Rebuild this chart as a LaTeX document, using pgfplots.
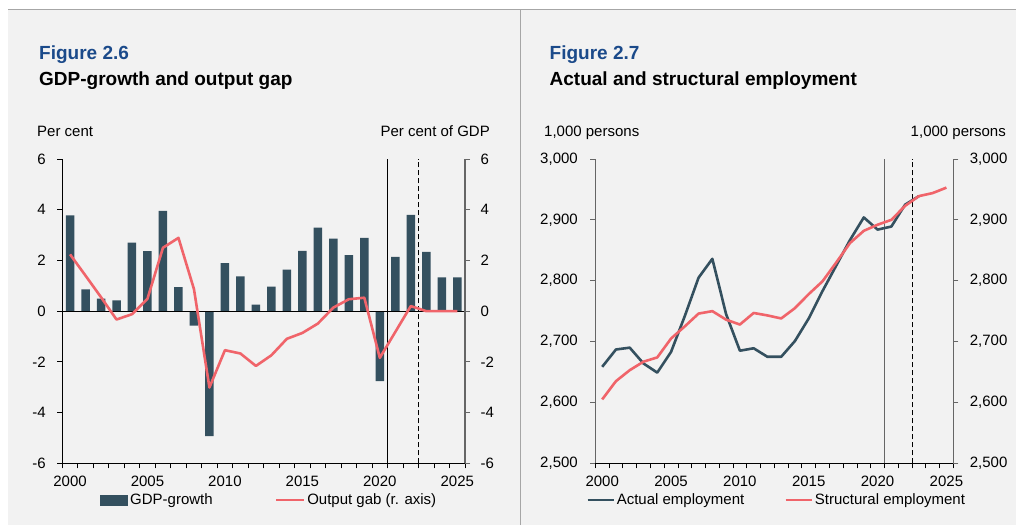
\documentclass[border=0pt]{standalone}
\usepackage{pgfplots}
\pgfplotsset{compat=1.18}
\usepackage{fontspec}
\setmainfont{Liberation Sans}
\definecolor{bgc}{HTML}{F2F2F2}
\definecolor{barc}{HTML}{34505F}
\definecolor{myred}{HTML}{F0646A}
\definecolor{figblue}{HTML}{1B4A8A}
\definecolor{axgray}{HTML}{666666}
\pgfplotsset{
  common/.style={
    scale only axis, anchor=south west,
    height=304.3pt, ymin=-6, ymax=6,
    xmin=1999.5, xmax=2025.5,
    ticklabel style={font=\fontsize{15}{18}\selectfont},
    /pgf/number format/assume math mode=true,
    tick align=outside, major tick length=5pt,
  },
}
\begin{document}
\begin{tikzpicture}[x=1pt,y=1pt]
\useasboundingbox (0,0) rectangle (1016,525);
\fill[white] (0,0) rectangle (1016,525);
\fill[bgc] (8,0) rectangle (1016,515.5);
\draw[gray!70, line width=1pt] (8,515.5) -- (1016,515.5);
\draw[gray!70, line width=1pt] (520,0) -- (520,515.5);

% titles
\node[anchor=base west, inner sep=0, font=\fontsize{19}{22}\selectfont\bfseries, text=figblue] at (39,465.7) {Figure 2.6};
\node[anchor=base west, inner sep=0, font=\fontsize{19}{22}\selectfont\bfseries] at (39,439.3) {GDP-growth and output gap};
\node[anchor=base west, inner sep=0, font=\fontsize{15}{18}\selectfont] at (37,388.3) {Per cent};
\node[anchor=base east, inner sep=0, font=\fontsize{15}{18}\selectfont] at (490,388.3) {Per cent of GDP};

\node[anchor=base west, inner sep=0, font=\fontsize{19}{22}\selectfont\bfseries, text=figblue] at (549.5,465.7) {Figure 2.7};
\node[anchor=base west, inner sep=0, font=\fontsize{19}{22}\selectfont\bfseries] at (549.5,439.3) {Actual and structural employment};
\node[anchor=base west, inner sep=0, font=\fontsize{15}{18}\selectfont] at (544,388.3) {1,000 persons};
\node[anchor=base east, inner sep=0, font=\fontsize{15}{18}\selectfont] at (1006,388.3) {1,000 persons};

% ---------- Left chart ----------
\begin{axis}[common, at={(62.3pt,61.7pt)}, width=402.7pt,
  axis x line*=bottom, axis y line*=left,
  axis line style={black, line width=0.8pt},
  tick style={black, line width=0.8pt},
  yticklabel style={xshift=-8pt},
  xticklabel style={yshift=-9pt},
  ytick={-6,-4,-2,0,2,4,6}, yticklabels={-6,-4,-2,0,2,4,6},
  xtick={1999.5,2000.5,...,2025.5}, xticklabels={},
  extra x ticks={2000,2005,2010,2015,2020,2025},
  extra x tick labels={2000,2005,2010,2015,2020,2025},
  extra x tick style={major tick length=0pt},
  legend style={at={(0.0936,-0.1206)}, anchor=west, draw=none, fill=none,
    legend columns=2, font=\fontsize{15}{18}\selectfont, inner sep=0pt,
    /tikz/every even column/.append style={column sep=60pt}},
]
\addplot[ybar, bar width=8.5pt, fill=barc, draw=none,
  legend image code/.code={\fill[barc] (0pt,-5.5pt) rectangle (28pt,5.5pt);}]
coordinates {
(2000,3.78) (2001,0.86) (2002,0.49) (2003,0.42) (2004,2.70) (2005,2.37)
(2006,3.95) (2007,0.95) (2008,-0.57) (2009,-4.93) (2010,1.89) (2011,1.37)
(2012,0.26) (2013,0.97) (2014,1.64) (2015,2.38) (2016,3.29) (2017,2.86)
(2018,2.21) (2019,2.89) (2020,-2.76) (2021,2.14) (2022,3.80) (2023,2.34)
(2024,1.33) (2025,1.33)};
\addlegendentry{GDP-growth}
\draw[black, line width=0.8pt] (axis cs:1999.5,0) -- (axis cs:2025.5,0);
\draw[black, line width=0.8pt] (axis cs:2020.5,-6) -- (axis cs:2020.5,6);
\draw[black, line width=0.8pt, dash pattern=on 5pt off 3pt] (axis cs:2022.5,-6) -- (axis cs:2022.5,6);
\addplot[myred, line width=2.6pt, line join=round,
  legend image code/.code={\draw[myred, line width=2.6pt] (0pt,0pt) -- (28pt,0pt);}]
coordinates {
(2000,2.24) (2001,1.40) (2002,0.55) (2003,-0.33) (2004,-0.12) (2005,0.49)
(2006,2.50) (2007,2.89) (2008,0.87) (2009,-3.01) (2010,-1.54) (2011,-1.67)
(2012,-2.16) (2013,-1.74) (2014,-1.09) (2015,-0.86) (2016,-0.49) (2017,0.14)
(2018,0.47) (2019,0.53) (2020,-1.84) (2021,-0.82) (2022,0.20) (2023,0.0)
(2024,0.0) (2025,0.0)};
\addlegendentry{Output gab (r. axis)}
\end{axis}
\begin{axis}[common, at={(62.3pt,61.7pt)}, width=402.7pt,
  axis x line=none, axis y line*=right,
  axis line style={axgray, line width=1.2pt},
  ytick style={axgray, line width=0.8pt},
  yticklabel style={xshift=7pt},
  ytick={-6,-4,-2,0,2,4,6}, yticklabels={-6,-4,-2,0,2,4,6},
]
\addplot[draw=none] coordinates {(2000,0)};
\end{axis}

% ---------- Right chart ----------
\begin{axis}[common, at={(595.3pt,61.7pt)}, width=358pt,
  ymin=2500, ymax=3000,
  axis x line*=bottom, axis y line*=left,
  x axis line style={black, line width=0.8pt},
  y axis line style={axgray, line width=1.2pt},
  tick style={black, line width=0.8pt},
  ytick style={axgray, line width=0.8pt},
  yticklabel style={xshift=-9pt},
  xticklabel style={yshift=-9pt},
  ytick={2500,2600,2700,2800,2900,3000},
  yticklabels={{2,500},{2,600},{2,700},{2,800},{2,900},{3,000}},
  xtick={1999.5,2000.5,...,2025.5}, xticklabels={},
  extra x ticks={2000,2005,2010,2015,2020,2025},
  extra x tick labels={2000,2005,2010,2015,2020,2025},
  extra x tick style={major tick length=0pt},
  legend style={at={(-0.026,-0.1206)}, anchor=west, draw=none, fill=none,
    legend columns=2, font=\fontsize{15}{18}\selectfont, inner sep=0pt,
    /tikz/every even column/.append style={column sep=38pt}},
]
\draw[axgray, line width=1.2pt] (axis cs:2020.5,2500) -- (axis cs:2020.5,3000);
\draw[black, line width=0.8pt, dash pattern=on 5pt off 3pt] (axis cs:2022.5,2500) -- (axis cs:2022.5,3000);
\addplot[barc, line width=2.6pt, line join=round,
  legend image code/.code={\draw[barc, line width=2.6pt] (0pt,0pt) -- (26pt,0pt);}]
coordinates {
(2000,2658.5) (2001,2687) (2002,2690) (2003,2664) (2004,2649) (2005,2683)
(2006,2742) (2007,2805) (2008,2836) (2009,2745) (2010,2685) (2011,2689)
(2012,2675) (2013,2675) (2014,2701) (2015,2738) (2016,2783) (2017,2825)
(2018,2867) (2019,2904) (2020,2884) (2021,2889) (2022,2925) (2023,2939)};
\addlegendentry{Actual employment}
\addplot[myred, line width=2.6pt, line join=round,
  legend image code/.code={\draw[myred, line width=2.6pt] (0pt,0pt) -- (26pt,0pt);}]
coordinates {
(2000,2605) (2001,2635) (2002,2653) (2003,2667) (2004,2674) (2005,2705)
(2006,2725) (2007,2746) (2008,2750) (2009,2736) (2010,2728) (2011,2747)
(2012,2743) (2013,2738) (2014,2755) (2015,2778) (2016,2799) (2017,2830)
(2018,2862) (2019,2882) (2020,2892) (2021,2900) (2022,2923) (2023,2939)
(2024,2944) (2025,2953)};
\addlegendentry{Structural employment}
\end{axis}
\begin{axis}[common, at={(595.3pt,61.7pt)}, width=358pt,
  ymin=2500, ymax=3000,
  axis x line=none, axis y line*=right,
  axis line style={axgray, line width=1.2pt},
  ytick style={axgray, line width=0.8pt},
  yticklabel style={xshift=8pt},
  ytick={2500,2600,2700,2800,2900,3000},
  yticklabels={{2,500},{2,600},{2,700},{2,800},{2,900},{3,000}},
]
\addplot[draw=none] coordinates {(2000,2500)};
\end{axis}
\end{tikzpicture}
\end{document}
